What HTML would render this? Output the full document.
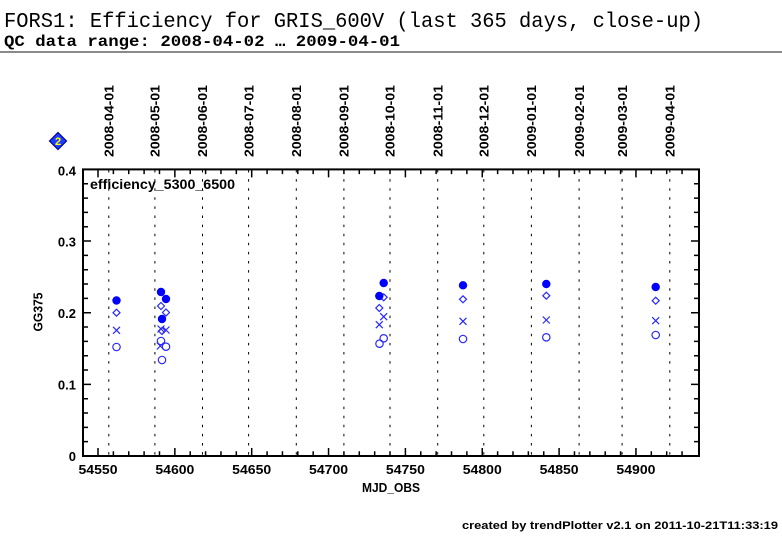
<!DOCTYPE html>
<html><head><meta charset="utf-8"><style>
html,body{margin:0;padding:0;background:#fff;}
svg{display:block;}
text{font-family:"Liberation Sans",sans-serif;}
</style></head><body>
<svg width="782" height="542" viewBox="0 0 782 542" xmlns="http://www.w3.org/2000/svg">
<rect width="782" height="542" fill="#fff"/>
<!-- title -->
<text x="4" y="27" style="font-family:'Liberation Mono',monospace" font-size="21" textLength="699" lengthAdjust="spacingAndGlyphs" fill="#000">FORS1: Efficiency for GRIS_600V (last 365 days, close-up)</text>
<text x="4" y="46" style="font-family:'Liberation Mono',monospace" font-weight="bold" font-size="16" textLength="396" lengthAdjust="spacingAndGlyphs" fill="#000">QC data range: 2008-04-02 … 2009-04-01</text>
<rect x="0" y="51" width="782" height="2" fill="#8a8a8a"/>

<!-- month dashed lines -->
<g stroke="#000" stroke-width="1" stroke-dasharray="2.5 6.6">
<path d="M108.8 170V456M154.9 170V456M202.5 170V456M248.6 170V456M296.3 170V456M343.9 170V456M390 170V456M437.7 170V456M483.8 170V456M531.4 170V456M579.1 170V456M622.1 170V456M669.8 170V456"/>
</g>

<!-- month labels -->
<g font-weight="bold" font-size="13" fill="#000">
<text transform="translate(113.5,157) rotate(-90)" textLength="72" lengthAdjust="spacingAndGlyphs">2008-04-01</text>
<text transform="translate(159.6,157) rotate(-90)" textLength="72" lengthAdjust="spacingAndGlyphs">2008-05-01</text>
<text transform="translate(207.2,157) rotate(-90)" textLength="72" lengthAdjust="spacingAndGlyphs">2008-06-01</text>
<text transform="translate(253.3,157) rotate(-90)" textLength="72" lengthAdjust="spacingAndGlyphs">2008-07-01</text>
<text transform="translate(301,157) rotate(-90)" textLength="72" lengthAdjust="spacingAndGlyphs">2008-08-01</text>
<text transform="translate(348.6,157) rotate(-90)" textLength="72" lengthAdjust="spacingAndGlyphs">2008-09-01</text>
<text transform="translate(394.7,157) rotate(-90)" textLength="72" lengthAdjust="spacingAndGlyphs">2008-10-01</text>
<text transform="translate(442.4,157) rotate(-90)" textLength="72" lengthAdjust="spacingAndGlyphs">2008-11-01</text>
<text transform="translate(488.5,157) rotate(-90)" textLength="72" lengthAdjust="spacingAndGlyphs">2008-12-01</text>
<text transform="translate(536.1,157) rotate(-90)" textLength="72" lengthAdjust="spacingAndGlyphs">2009-01-01</text>
<text transform="translate(583.8,157) rotate(-90)" textLength="72" lengthAdjust="spacingAndGlyphs">2009-02-01</text>
<text transform="translate(626.8,157) rotate(-90)" textLength="72" lengthAdjust="spacingAndGlyphs">2009-03-01</text>
<text transform="translate(674.5,157) rotate(-90)" textLength="72" lengthAdjust="spacingAndGlyphs">2009-04-01</text>
</g>

<!-- diamond icon -->
<polygon points="58,132.5 66.5,141 58,149.5 49.5,141" fill="#1f3dff" stroke="#0000a0" stroke-width="1.2"/>
<text x="58" y="145" font-weight="bold" font-size="11" fill="#ffff00" text-anchor="middle">2</text>

<!-- frame -->
<rect x="83" y="169.4" width="616" height="286.6" fill="none" stroke="#000" stroke-width="2"/>

<!-- ticks -->
<g stroke="#000" stroke-width="1.5" fill="none">
<!-- bottom majors -->
<path d="M98 456V448M174.85 456V448M251.7 456V448M328.55 456V448M405.4 456V448M482.25 456V448M559.1 456V448M635.95 456V448"/>
<!-- bottom minors -->
<path d="M113.37 456V451.3M128.74 456V451.3M144.11 456V451.3M159.48 456V451.3M190.22 456V451.3M205.59 456V451.3M220.96 456V451.3M236.33 456V451.3M267.07 456V451.3M282.44 456V451.3M297.81 456V451.3M313.18 456V451.3M343.92 456V451.3M359.29 456V451.3M374.66 456V451.3M390.03 456V451.3M420.77 456V451.3M436.14 456V451.3M451.51 456V451.3M466.88 456V451.3M497.62 456V451.3M512.99 456V451.3M528.36 456V451.3M543.73 456V451.3M574.47 456V451.3M589.84 456V451.3M605.21 456V451.3M620.58 456V451.3M651.32 456V451.3M666.69 456V451.3M682.06 456V451.3"/>
<!-- top majors -->
<path d="M98 169.4V177.4M174.85 169.4V177.4M251.7 169.4V177.4M328.55 169.4V177.4M405.4 169.4V177.4M482.25 169.4V177.4M559.1 169.4V177.4M635.95 169.4V177.4"/>
<!-- top minors -->
<path d="M113.37 169.4V174.1M128.74 169.4V174.1M144.11 169.4V174.1M159.48 169.4V174.1M190.22 169.4V174.1M205.59 169.4V174.1M220.96 169.4V174.1M236.33 169.4V174.1M267.07 169.4V174.1M282.44 169.4V174.1M297.81 169.4V174.1M313.18 169.4V174.1M343.92 169.4V174.1M359.29 169.4V174.1M374.66 169.4V174.1M390.03 169.4V174.1M420.77 169.4V174.1M436.14 169.4V174.1M451.51 169.4V174.1M466.88 169.4V174.1M497.62 169.4V174.1M512.99 169.4V174.1M528.36 169.4V174.1M543.73 169.4V174.1M574.47 169.4V174.1M589.84 169.4V174.1M605.21 169.4V174.1M620.58 169.4V174.1M651.32 169.4V174.1M666.69 169.4V174.1M682.06 169.4V174.1"/>
<!-- left majors -->
<path d="M83 384.35H91M83 312.7H91M83 241.05H91"/>
<!-- left minors -->
<path d="M83 441.67H88M83 427.34H88M83 413H88M83 398.7H88M83 370H88M83 355.7H88M83 341.4H88M83 327H88M83 298.4H88M83 284H88M83 269.7H88M83 255.4H88M83 226.7H88M83 212.4H88M83 198.1H88M83 183.7H88"/>
<!-- right majors -->
<path d="M699 384.35H691M699 312.7H691M699 241.05H691"/>
<!-- right minors -->
<path d="M699 441.67H694M699 427.34H694M699 413H694M699 398.7H694M699 370H694M699 355.7H694M699 341.4H694M699 327H694M699 298.4H694M699 284H694M699 269.7H694M699 255.4H694M699 226.7H694M699 212.4H694M699 198.1H694M699 183.7H694"/>
</g>

<!-- y tick labels -->
<g font-weight="bold" font-size="13" fill="#000" text-anchor="end">
<text x="76" y="175.5">0.4</text>
<text x="76" y="246.5">0.3</text>
<text x="76" y="318">0.2</text>
<text x="76" y="389.5">0.1</text>
<text x="76" y="461">0</text>
</g>
<!-- x tick labels -->
<g font-weight="bold" font-size="13" fill="#000" text-anchor="middle">
<text x="98" y="474" textLength="39" lengthAdjust="spacingAndGlyphs">54550</text>
<text x="174.85" y="474" textLength="39" lengthAdjust="spacingAndGlyphs">54600</text>
<text x="251.7" y="474" textLength="39" lengthAdjust="spacingAndGlyphs">54650</text>
<text x="328.55" y="474" textLength="39" lengthAdjust="spacingAndGlyphs">54700</text>
<text x="405.4" y="474" textLength="39" lengthAdjust="spacingAndGlyphs">54750</text>
<text x="482.25" y="474" textLength="39" lengthAdjust="spacingAndGlyphs">54800</text>
<text x="559.1" y="474" textLength="39" lengthAdjust="spacingAndGlyphs">54850</text>
<text x="635.95" y="474" textLength="39" lengthAdjust="spacingAndGlyphs">54900</text>
</g>

<!-- axis labels -->
<text x="391" y="492" font-weight="bold" font-size="12.5" text-anchor="middle" fill="#000" textLength="58" lengthAdjust="spacingAndGlyphs">MJD_OBS</text>
<text transform="translate(42.5,312) rotate(-90)" font-weight="bold" font-size="12.5" text-anchor="middle" fill="#000" textLength="39" lengthAdjust="spacingAndGlyphs">GG375</text>

<!-- panel label -->
<text x="90" y="189" font-weight="bold" font-size="14" fill="#000" textLength="145" lengthAdjust="spacingAndGlyphs">efficiency_5300_6500</text>

<!-- data: open circles -->
<g fill="none" stroke="#2828ff" stroke-width="1.2">
<circle cx="116.5" cy="347" r="3.7"/>
<circle cx="161" cy="341" r="3.7"/>
<circle cx="166" cy="346.7" r="3.7"/>
<circle cx="162" cy="360" r="3.7"/>
<circle cx="383.7" cy="338.3" r="3.7"/>
<circle cx="379.5" cy="343.7" r="3.7"/>
<circle cx="463" cy="339" r="3.7"/>
<circle cx="546.3" cy="337.3" r="3.7"/>
<circle cx="655.7" cy="335" r="3.7"/>
</g>
<!-- data: crosses -->
<g fill="none" stroke="#2828ff" stroke-width="1.2">
<path d="M113 326.8l7 7m0-7l-7 7"/>
<path d="M157.5 325.5l7 7m0-7l-7 7"/>
<path d="M162.5 326.5l7 7m0-7l-7 7"/>
<path d="M156.8 342.5l7 7m0-7l-7 7"/>
<path d="M380.2 313.2l7 7m0-7l-7 7"/>
<path d="M375.8 321.2l7 7m0-7l-7 7"/>
<path d="M459.5 317.8l7 7m0-7l-7 7"/>
<path d="M542.8 316.5l7 7m0-7l-7 7"/>
<path d="M652.2 317.2l7 7m0-7l-7 7"/>
</g>
<!-- data: diamonds -->
<g fill="none" stroke="#2828ff" stroke-width="1.2">
<path d="M116.5 309.2l3.5 3.5l-3.5 3.5l-3.5-3.5z"/>
<path d="M161 302.5l3.5 3.5l-3.5 3.5l-3.5-3.5z"/>
<path d="M166 309l3.5 3.5l-3.5 3.5l-3.5-3.5z"/>
<path d="M162 327.5l3.5 3.5l-3.5 3.5l-3.5-3.5z"/>
<path d="M383.7 293.8l3.5 3.5l-3.5 3.5l-3.5-3.5z"/>
<path d="M379.3 304.5l3.5 3.5l-3.5 3.5l-3.5-3.5z"/>
<path d="M463 295.8l3.5 3.5l-3.5 3.5l-3.5-3.5z"/>
<path d="M546.3 292.2l3.5 3.5l-3.5 3.5l-3.5-3.5z"/>
<path d="M655.7 297.2l3.5 3.5l-3.5 3.5l-3.5-3.5z"/>
</g>
<!-- data: filled circles -->
<g fill="#0000ff">
<circle cx="116.5" cy="300.5" r="4.2"/>
<circle cx="161" cy="292" r="4.2"/>
<circle cx="166" cy="299" r="4.2"/>
<circle cx="162" cy="319" r="4.2"/>
<circle cx="383.7" cy="283" r="4.2"/>
<circle cx="379.3" cy="296" r="4.2"/>
<circle cx="463" cy="285.3" r="4.2"/>
<circle cx="546.3" cy="284" r="4.2"/>
<circle cx="655.7" cy="287" r="4.2"/>
</g>

<!-- footer -->
<text x="462" y="529" font-weight="bold" font-size="11" fill="#000" textLength="316" lengthAdjust="spacingAndGlyphs">created by trendPlotter v2.1 on 2011-10-21T11:33:19</text>
</svg>
</body></html>
